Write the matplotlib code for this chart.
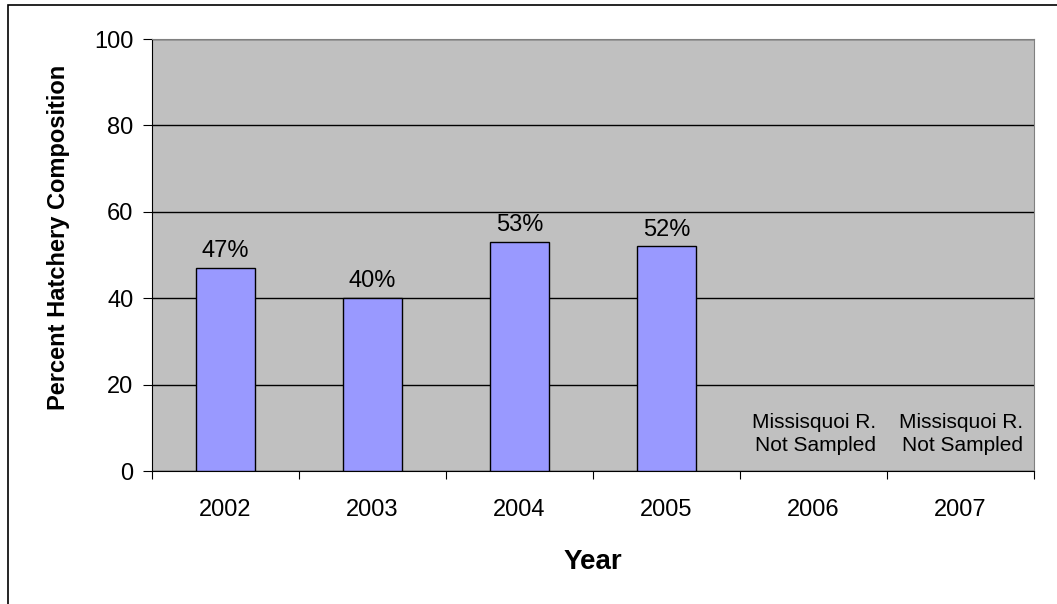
import matplotlib.pyplot as plt
from matplotlib.patches import Rectangle

plt.rcParams['font.family'] = ['Liberation Sans', 'DejaVu Sans']

years = ['2002', '2003', '2004', '2005', '2006', '2007']
hatchery_pct = [47, 40, 53, 52, None, None]
not_sampled_note = 'Missisquoi R.\nNot Sampled'

fig = plt.figure(figsize=(10.57, 6.04), dpi=100)
fig.patch.set_facecolor('white')

# outer chart frame (only top/left fall inside the image)
fig.patches.append(Rectangle((8 / 1057, -0.1), 1.2, 1 - 5 / 604 + 0.1,
                             transform=fig.transFigure, fill=False,
                             edgecolor='black', linewidth=1.2))

ax = fig.add_axes([152 / 1057, 1 - 471 / 604, (1034 - 152) / 1057, (471 - 39) / 604])
ax.set_facecolor('#C0C0C0')

x = list(range(len(years)))
for i, v in enumerate(hatchery_pct):
    if v is None:
        ax.text(i + 0.425, 4.6, not_sampled_note, ha='right', va='baseline',
                fontsize=15, linespacing=1.3)
        continue
    ax.bar(i, v, width=0.4, color='#9999FF', edgecolor='black', linewidth=1, zorder=3)
    ax.text(i, v + 2.5, f'{v}%', ha='center', va='baseline', fontsize=17)

ax.set_xlim(-0.5, len(years) - 0.5)
ax.set_ylim(0, 100)
ax.set_yticks(range(0, 101, 20))
ax.yaxis.grid(True, color='black', linewidth=1)
ax.set_axisbelow(True)

# category ticks sit between the bars
ax.set_xticks([i - 0.5 for i in range(len(years) + 1)], minor=False)
ax.set_xticklabels([''] * (len(years) + 1))
ax.set_xticks(x, minor=True)
ax.set_xticklabels(years, minor=True, fontsize=17)
ax.tick_params(axis='x', which='minor', length=0, pad=20)
ax.tick_params(axis='x', which='major', length=6, direction='out', color='black')
ax.tick_params(axis='y', labelsize=17, length=6.5, direction='out', pad=7)

for side in ['top', 'right']:
    ax.spines[side].set_color('#808080')
ax.spines['left'].set_color('black')
ax.spines['bottom'].set_color('black')

ax.set_ylabel('Percent Hatchery Composition', fontsize=17, fontweight='bold')
ax.yaxis.set_label_coords(-0.093, 0.54)
ax.set_xlabel('Year', fontsize=20, fontweight='bold', labelpad=20)

fig.savefig('out.png', dpi=100)
